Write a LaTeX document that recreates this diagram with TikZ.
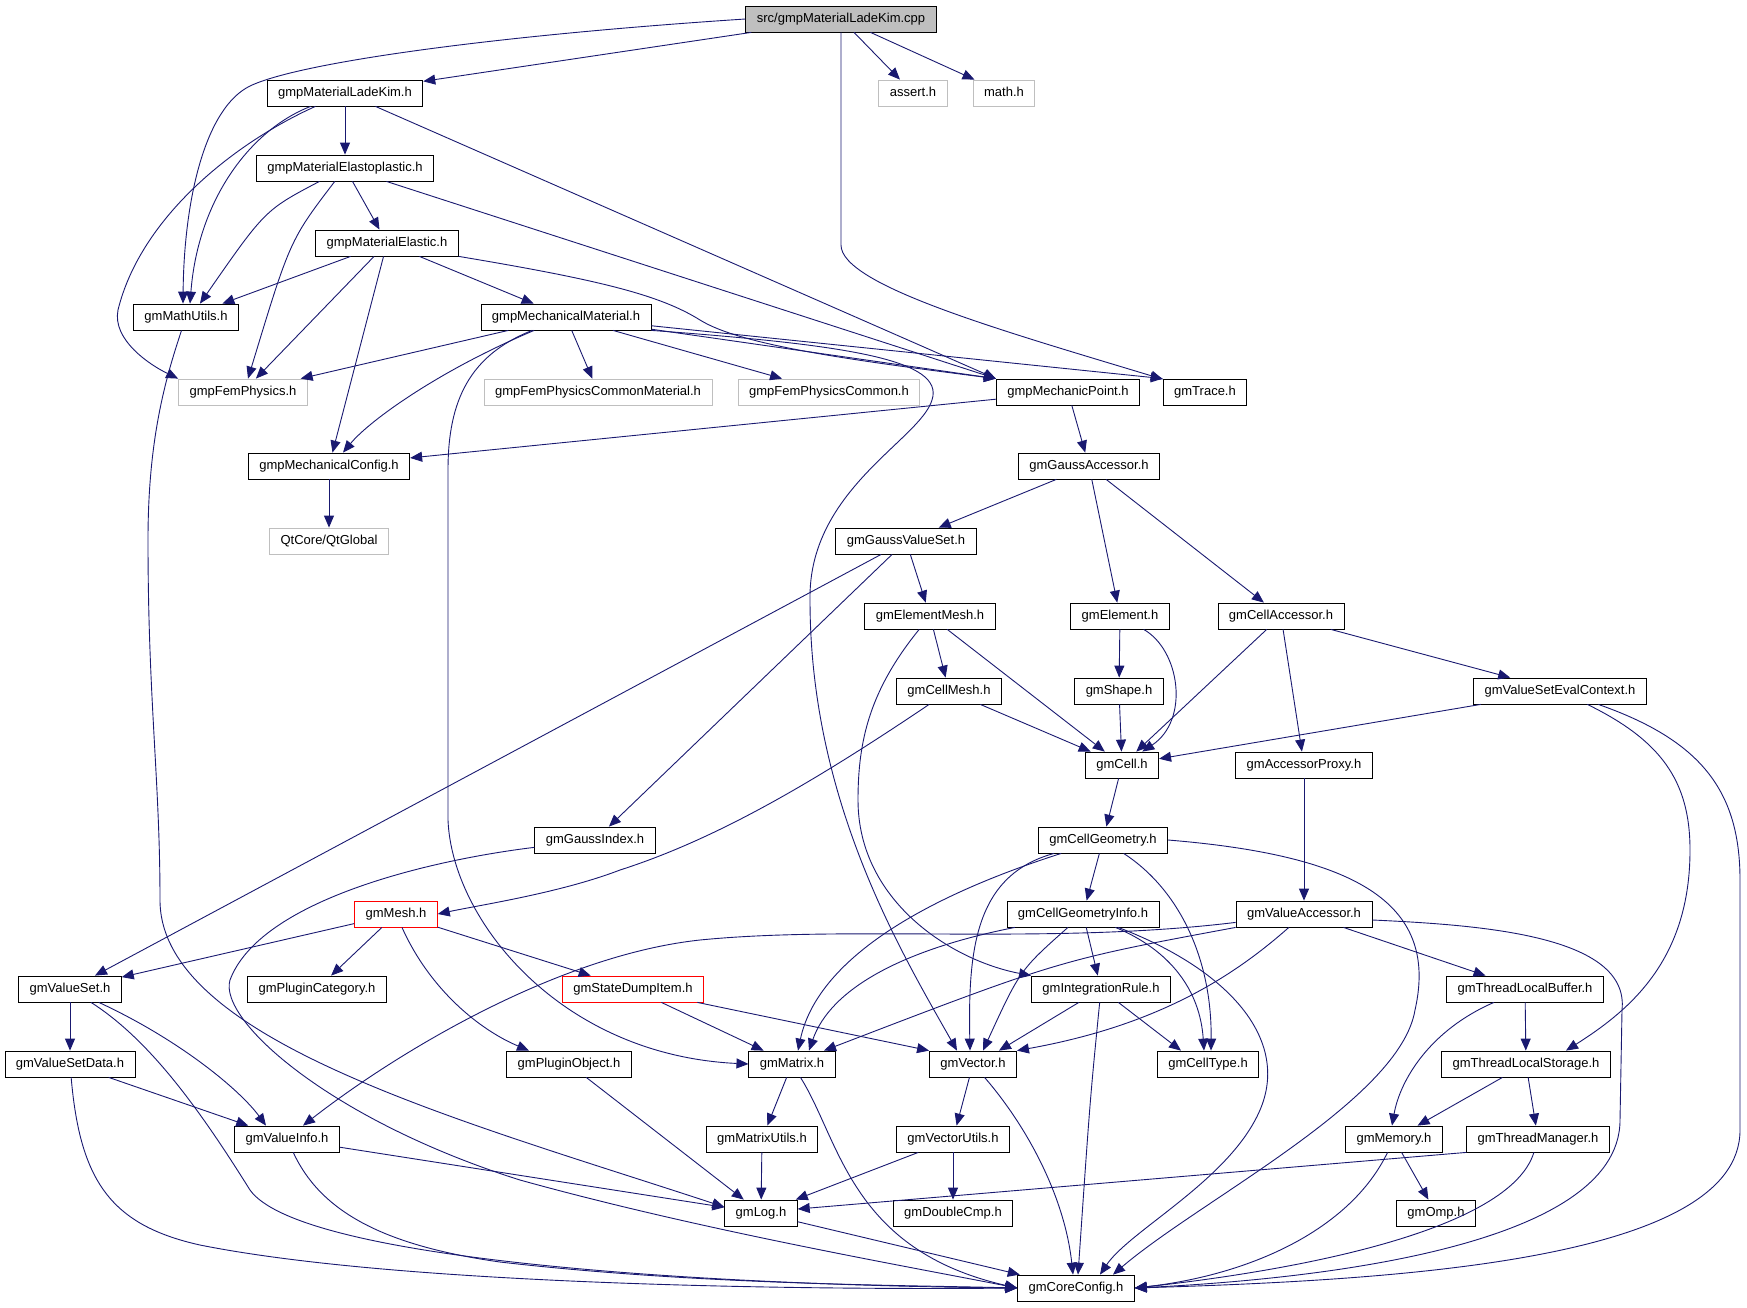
\documentclass[tikz,border=0pt]{standalone}
\usepackage{fontspec}
\setmainfont{Liberation Sans}
\usetikzlibrary{arrows.meta}
\definecolor{edgeblue}{RGB}{25,25,112}
\definecolor{extgray}{RGB}{191,191,191}
\tikzset{
  hdr/.style={draw=black, line width=0.8pt, fill=white, minimum height=26pt, inner xsep=11pt, inner ysep=0pt,
    text height=9.5pt, text depth=2.5pt, font=\fontsize{13}{15}\selectfont},
  ext/.style={hdr, draw=extgray},
  trunc/.style={hdr, draw=red},
  root/.style={hdr, fill=extgray},
  dep/.style={edgeblue, line width=0.9pt, -{Triangle[length=12pt,width=10pt]}}
}
\begin{document}
\begin{tikzpicture}[x=1pt,y=-1pt]
\useasboundingbox (0,0) rectangle (1747,1307);
% headers
\node[root] (cpp) at (841,19) {src/gmpMaterialLadeKim.cpp};
\node[hdr] (ladeKim) at (345,93) {gmpMaterialLadeKim.h};
\node[ext] (assert) at (913,93) {assert.h};
\node[ext] (mathh) at (1004,93) {math.h};
\node[hdr] (elastoplastic) at (345,168) {gmpMaterialElastoplastic.h};
\node[hdr] (elastic) at (387,243) {gmpMaterialElastic.h};
\node[hdr] (mathUtils) at (186,317) {gmMathUtils.h};
\node[hdr] (mechMaterial) at (566,317) {gmpMechanicalMaterial.h};
\node[ext] (femPhysics) at (243,392) {gmpFemPhysics.h};
\node[ext] (femCommonMat) at (598,392) {gmpFemPhysicsCommonMaterial.h};
\node[ext] (femCommon) at (829,392) {gmpFemPhysicsCommon.h};
\node[hdr] (mechPoint) at (1068,392) {gmpMechanicPoint.h};
\node[hdr] (trace) at (1205,392) {gmTrace.h};
\node[hdr] (mechConfig) at (329,466) {gmpMechanicalConfig.h};
\node[hdr] (gaussAccessor) at (1089,466) {gmGaussAccessor.h};
\node[ext] (qtGlobal) at (329,541) {QtCore/QtGlobal};
\node[hdr] (gaussValueSet) at (906,541) {gmGaussValueSet.h};
\node[hdr] (elementMesh) at (930,616) {gmElementMesh.h};
\node[hdr] (element) at (1120,616) {gmElement.h};
\node[hdr] (cellAccessor) at (1281,616) {gmCellAccessor.h};
\node[hdr] (cellMesh) at (949,691) {gmCellMesh.h};
\node[hdr] (shape) at (1119,691) {gmShape.h};
\node[hdr] (evalContext) at (1560,691) {gmValueSetEvalContext.h};
\node[hdr] (cell) at (1122,765) {gmCell.h};
\node[hdr] (accessorProxy) at (1304,765) {gmAccessorProxy.h};
\node[hdr] (gaussIndex) at (595,840) {gmGaussIndex.h};
\node[hdr] (cellGeometry) at (1103,840) {gmCellGeometry.h};
\node[trunc] (mesh) at (396,914) {gmMesh.h};
\node[hdr] (cellGeomInfo) at (1083,914) {gmCellGeometryInfo.h};
\node[hdr] (valueAccessor) at (1304,914) {gmValueAccessor.h};
\node[hdr] (valueSet) at (70,989) {gmValueSet.h};
\node[hdr] (pluginCategory) at (317,989) {gmPluginCategory.h};
\node[trunc] (stateDump) at (633,989) {gmStateDumpItem.h};
\node[hdr] (integrationRule) at (1101,989) {gmIntegrationRule.h};
\node[hdr] (threadBuffer) at (1525,989) {gmThreadLocalBuffer.h};
\node[hdr] (valueSetData) at (70,1064) {gmValueSetData.h};
\node[hdr] (pluginObject) at (569,1064) {gmPluginObject.h};
\node[hdr] (matrix) at (792,1064) {gmMatrix.h};
\node[hdr] (vector) at (973,1064) {gmVector.h};
\node[hdr] (cellType) at (1208,1064) {gmCellType.h};
\node[hdr] (threadStorage) at (1526,1064) {gmThreadLocalStorage.h};
\node[hdr] (valueInfo) at (287,1139) {gmValueInfo.h};
\node[hdr] (matrixUtils) at (762,1139) {gmMatrixUtils.h};
\node[hdr] (vectorUtils) at (953,1139) {gmVectorUtils.h};
\node[hdr] (memory) at (1394,1139) {gmMemory.h};
\node[hdr] (threadManager) at (1538,1139) {gmThreadManager.h};
\node[hdr] (log) at (761,1213) {gmLog.h};
\node[hdr] (doubleCmp) at (953,1213) {gmDoubleCmp.h};
\node[hdr] (omp) at (1436,1213) {gmOmp.h};
\node[hdr] (coreConfig) at (1076,1288) {gmCoreConfig.h};

% includes of the source file
\draw[dep] (cpp.west) .. controls (500,35) and (300,62) .. (250,86) .. controls (205,108) and (184,200) .. ([xshift=-3pt]mathUtils.north);
\draw[dep] (cpp) -- (ladeKim);
\draw[dep] (cpp) -- (assert);
\draw[dep] (cpp) -- (mathh);
\draw[dep] (cpp) -- (841,245) .. controls (841,285) and (1000,330) .. (trace);

% material headers
\draw[dep] (ladeKim) -- (elastoplastic);
\draw[dep] (ladeKim) .. controls (250,130) and (198,200) .. ([xshift=4pt]mathUtils.north);
\draw[dep] (ladeKim) .. controls (230,145) and (140,220) .. (118,310) .. controls (112,340) and (150,365) .. (femPhysics.north west);
\draw[dep] (ladeKim) -- (mechPoint.north west);
\draw[dep] (elastoplastic) .. controls (265,210) .. ([xshift=14pt]mathUtils.north);
\draw[dep] (elastoplastic) .. controls (290,240) .. ([xshift=5pt]femPhysics.north);
\draw[dep] (elastoplastic) -- (elastic);
\draw[dep] (elastoplastic) -- (mechPoint.north west);
\draw[dep] (elastic) -- (mathUtils);
\draw[dep] (elastic) -- (femPhysics);
\draw[dep] (elastic) -- (mechConfig);
\draw[dep] (elastic) -- (mechMaterial);
\draw[dep] (elastic.south east) .. controls (600,280) and (660,295) .. (700,320) .. controls (740,345) and (850,360) .. (mechPoint.north west);
\draw[dep] (mechMaterial) -- (femPhysics);
\draw[dep] (mechMaterial) .. controls (440,370) and (370,420) .. ([xshift=14pt]mechConfig.north);
\draw[dep] (mechMaterial) .. controls (470,355) and (448,400) .. (448,470) -- (448,820) .. controls (452,920) and (560,1055) .. (matrix.west);
\draw[dep] (mechMaterial) -- (femCommonMat);
\draw[dep] (mechMaterial) -- (femCommon);
\draw[dep] (mechMaterial) -- (mechPoint.north west);
\draw[dep] (mechMaterial) -- (trace.north west);
\draw[dep] (mechMaterial.south east) .. controls (850,345) and (945,360) .. (932,400) .. controls (920,440) and (808,490) .. (810,600) .. controls (810,800) and (900,950) .. ([xshift=-16pt]vector.north);
\draw[dep] (mechPoint) -- (mechConfig);
\draw[dep] (mechPoint) -- (gaussAccessor);
\draw[dep] (mechConfig) -- (qtGlobal);

% gauss and cell headers
\draw[dep] (gaussAccessor) -- (gaussValueSet);
\draw[dep] (gaussAccessor) -- (element);
\draw[dep] (gaussAccessor) -- (cellAccessor);
\draw[dep] (gaussValueSet) -- (elementMesh);
\draw[dep] (gaussValueSet) -- (valueSet);
\draw[dep] (gaussValueSet) -- (gaussIndex);
\draw[dep] (elementMesh) -- (cellMesh);
\draw[dep] (elementMesh) -- (cell);
\draw[dep] (elementMesh) .. controls (870,690) and (858,740) .. (858,800) .. controls (858,900) and (950,960) .. (integrationRule.north west);
\draw[dep] (element) -- (shape);
\draw[dep] (element) .. controls (1180,650) and (1190,720) .. (cell);
\draw[dep] (shape) -- (cell);
\draw[dep] (cellMesh) -- (cell);
\draw[dep] (cellMesh) .. controls (820,778) and (720,838) .. (620,870) .. controls (560,893) and (480,905) .. (mesh.east);
\draw[dep] (cellAccessor) -- (cell);
\draw[dep] (cellAccessor) -- (accessorProxy);
\draw[dep] (cellAccessor) -- (evalContext);
\draw[dep] (evalContext) -- (cell);
\draw[dep] (evalContext) .. controls (1660,740) and (1690,780) .. (1690,850) .. controls (1690,960) and (1630,1010) .. ([xshift=40pt]threadStorage.north);
\draw[dep] (evalContext) .. controls (1700,740) and (1740,790) .. (1740,880) -- (1740,1130) .. controls (1740,1260) and (1400,1280) .. (coreConfig.east);
\draw[dep] (cell) -- (cellGeometry);
\draw[dep] (accessorProxy) -- (valueAccessor);
\draw[dep] (gaussIndex) .. controls (430,860) and (260,900) .. (230,980) .. controls (218,1020) and (330,1120) .. (520,1180) .. controls (700,1230) and (900,1265) .. (coreConfig.west);

% geometry
\draw[dep] (cellGeometry) .. controls (900,905) and (815,970) .. ([xshift=6pt]matrix.north);
\draw[dep] (cellGeometry) .. controls (975,875) and (968,950) .. ([xshift=-3pt]vector.north);
\draw[dep] (cellGeometry) -- (cellGeomInfo);
\draw[dep] (cellGeometry) .. controls (1180,890) and (1212,960) .. ([xshift=3pt]cellType.north);
\draw[dep] (cellGeometry.east) .. controls (1350,855) and (1440,900) .. (1415,1010) .. controls (1400,1100) and (1200,1200) .. ([xshift=37pt]coreConfig.north);
\draw[dep] (cellGeomInfo) .. controls (900,950) and (830,990) .. ([xshift=17pt]matrix.north);
\draw[dep] (cellGeomInfo) .. controls (1020,970) .. ([xshift=10pt]vector.north);
\draw[dep] (cellGeomInfo) -- (integrationRule);
\draw[dep] (cellGeomInfo) .. controls (1170,950) and (1200,990) .. ([xshift=-4pt]cellType.north);
\draw[dep] (cellGeomInfo) .. controls (1230,970) and (1290,1040) .. (1260,1110) .. controls (1230,1180) and (1130,1230) .. ([xshift=24pt]coreConfig.north);
\draw[dep] (integrationRule) -- ([xshift=26pt]vector.north);
\draw[dep] (integrationRule) -- ([xshift=-27pt]cellType.north);
\draw[dep] (integrationRule) .. controls (1090,1100) .. ([xshift=2pt]coreConfig.north);

% value accessor and threads
\draw[dep] (valueAccessor.187) .. controls (1050,945) and (850,925) .. (700,940) .. controls (560,955) and (400,1050) .. ([xshift=16pt]valueInfo.north);
\draw[dep] (valueAccessor.south west) .. controls (1060,960) .. ([xshift=32pt]matrix.north);
\draw[dep] (valueAccessor) .. controls (1235,975) and (1160,1025) .. (vector.north east);
\draw[dep] (valueAccessor) -- (threadBuffer);
\draw[dep] (valueAccessor.355) .. controls (1480,925) and (1630,935) .. (1622,1010) -- (1620,1120) .. controls (1620,1250) and (1300,1280) .. (coreConfig.east);
\draw[dep] (threadBuffer) .. controls (1430,1030) and (1400,1080) .. ([xshift=-2pt]memory.north);
\draw[dep] (threadBuffer) -- (threadStorage);
\draw[dep] (threadStorage) -- (memory);
\draw[dep] (threadStorage) -- (threadManager);
\draw[dep] (memory) -- (omp);
\draw[dep] (memory) .. controls (1350,1230) and (1250,1275) .. (coreConfig.east);
\draw[dep] (threadManager.south west) -- ([yshift=4pt]log.east);
\draw[dep] (threadManager) .. controls (1510,1230) and (1300,1270) .. (coreConfig.east);

% value sets, mesh
\draw[dep] (valueSet) -- (valueSetData);
\draw[dep] (valueSet) .. controls (180,1040) and (240,1090) .. ([xshift=-21pt]valueInfo.north);
\draw[dep] (valueSet) .. controls (150,1040) and (200,1110) .. (250,1190) .. controls (300,1260) and (700,1285) .. (coreConfig.west);
\draw[dep] (valueSetData) -- (valueInfo);
\draw[dep] (valueSetData) .. controls (80,1180) and (110,1225) .. (200,1245) .. controls (400,1285) and (800,1290) .. (coreConfig.west);
\draw[dep] (valueInfo) -- (log);
\draw[dep] (valueInfo) .. controls (320,1210) and (380,1245) .. (500,1262) .. controls (700,1285) and (900,1285) .. (coreConfig.west);
\draw[dep] (mathUtils) .. controls (165,380) and (148,440) .. (148,540) .. controls (148,700) and (160,780) .. (160,900) .. controls (160,1040) and (460,1120) .. ([yshift=6pt]log.west);
\draw[dep] (pluginObject) -- (log);
\draw[dep] (mesh) -- (valueSet);
\draw[dep] (mesh) -- (pluginCategory);
\draw[dep] (mesh) .. controls (430,990) and (480,1030) .. ([xshift=-40pt]pluginObject.north);
\draw[dep] (mesh) -- (stateDump);

% math
\draw[dep] (stateDump) -- (matrix);
\draw[dep] (stateDump) -- (vector.north west);
\draw[dep] (matrix) -- (matrixUtils);
\draw[dep] (matrix) .. controls (840,1140) and (850,1250) .. (coreConfig.west);
\draw[dep] (vector) -- (vectorUtils);
\draw[dep] (vector) .. controls (1030,1130) and (1065,1200) .. ([xshift=-3pt]coreConfig.north);
\draw[dep] (matrixUtils) -- (log);
\draw[dep] (vectorUtils) -- (log);
\draw[dep] (vectorUtils) -- (doubleCmp);
\draw[dep] (log) -- (coreConfig);
\end{tikzpicture}
\end{document}
